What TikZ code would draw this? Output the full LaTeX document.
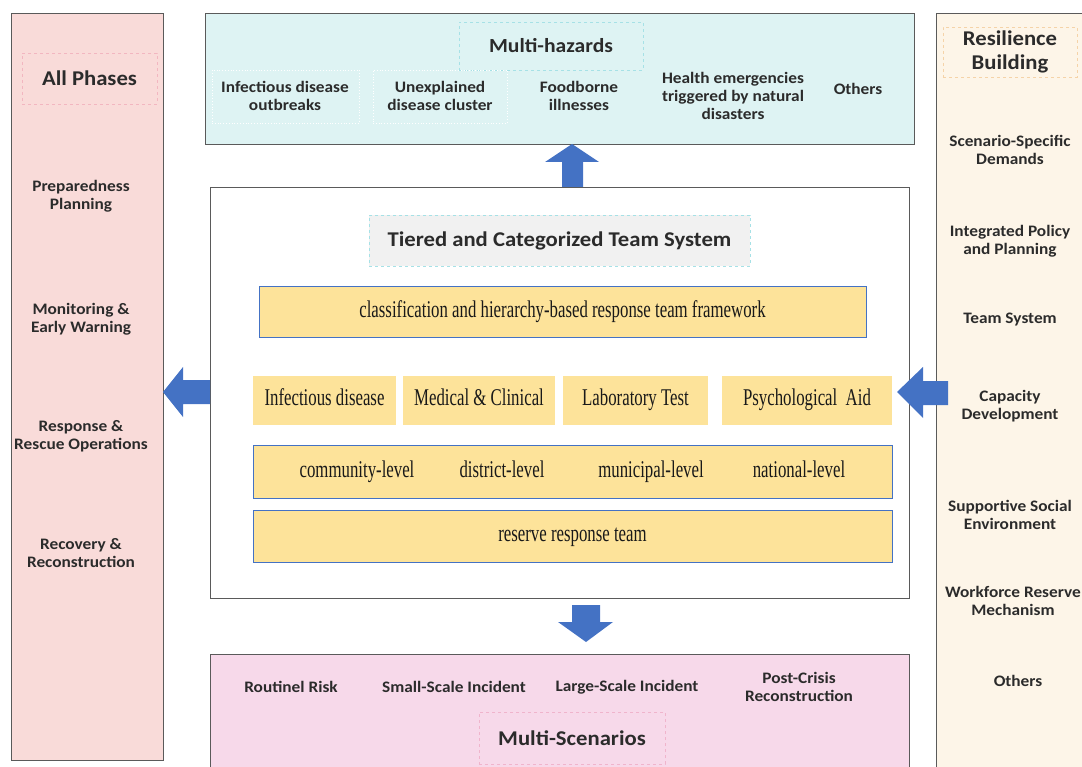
\documentclass[tikz,border=0pt]{standalone}
\usepackage{fontspec}
\setmainfont{Carlito}[FakeStretch=1.08]
\newfontfamily\condserif[FakeStretch=0.7]{Liberation Serif}
\usetikzlibrary{positioning}

\definecolor{edgegray}{HTML}{5A5A5A}
\definecolor{txtgray}{HTML}{2B2B2B}
\definecolor{phasepink}{HTML}{F9DBD9}
\definecolor{hazardcyan}{HTML}{DEF3F3}
\definecolor{scenpink}{HTML}{F7D9EA}
\definecolor{rescream}{HTML}{FDF5E8}
\definecolor{yel}{HTML}{FDE39A}
\definecolor{boxblue}{HTML}{4472C4}
\definecolor{arrowblue}{HTML}{4472C4}
\definecolor{titlegray}{HTML}{F1F1F1}
\definecolor{dashcyan}{HTML}{A6E1E6}
\definecolor{dashpink}{HTML}{F2B6C0}
\definecolor{dashpeach}{HTML}{F5D3A8}
\definecolor{dashmag}{HTML}{F0B4CC}

\tikzset{
  box/.style={anchor=north west, inner sep=0pt, outer sep=0pt},
  panel/.style={box, draw=edgegray, line width=0.9pt},
  lbl/.style={font=\bfseries\fontsize{16}{18}\selectfont, text=txtgray, align=center, inner sep=0pt},
  headline/.style={font=\bfseries\fontsize{21}{23.5}\selectfont, text=txtgray, align=center, inner sep=0pt},
  ytext/.style={font=\condserif\fontsize{24}{27}\selectfont, text=black!90, inner sep=0pt,
    text height=16pt, text depth=5.5pt},
  ybox/.style={box, fill=yel},
  ybluebox/.style={box, fill=yel, draw=boxblue, line width=1pt},
  blockarrow/.style={fill=arrowblue, draw=none},
}

\begin{document}
\begin{tikzpicture}[x=1pt, y=-1pt]
\useasboundingbox (0,0) rectangle (1082,767);

% ---------- left column: phases ----------
\node[panel, fill=phasepink, minimum width=152pt, minimum height=747pt] (phases) at (11,13) {};
\node[box, draw=dashpink, dashed, line width=0.8pt, minimum width=135pt, minimum height=51pt] (phasetitlebox) at (22,53) {};
\node[headline] (phasetitle) at (phasetitlebox.center) {All Phases};
\node[lbl] (ph1) at (81,196) {Preparedness\\Planning};
\node[lbl] (ph2) at (81,319) {Monitoring \&\\Early Warning};
\node[lbl] (ph3) at (81,436) {Response \&\\Rescue Operations};
\node[lbl] (ph4) at (81,553) {Recovery \&\\Reconstruction};

% ---------- right column: resilience ----------
\fill[rescream] (936,13) rectangle (1082,767);
\draw[edgegray, line width=0.9pt] (936,767) -- (936,13) -- (1082,13);
\node[box, draw=dashpeach, dashed, line width=0.8pt, minimum width=134pt, minimum height=50pt] (restitlebox) at (943,27) {};
\node[headline] (restitle) at (restitlebox.center) {Resilience\\Building};
\node[lbl] (rb1) at (1010,150) {Scenario-Specific\\Demands};
\node[lbl] (rb2) at (1010,241) {Integrated Policy\\and Planning};
\node[lbl] (rb3) at (1010,320) {Team System};
\node[lbl] (rb4) at (1010,406) {Capacity\\Development};
\node[lbl] (rb5) at (1010,515) {Supportive Social\\Environment};
\node[lbl] (rb6) at (1013,601) {Workforce Reserve\\Mechanism};
\node[lbl] (rb7) at (1018,681) {Others};

% ---------- top panel: hazards ----------
\node[panel, fill=hazardcyan, minimum width=709pt, minimum height=131pt] (hazards) at (205,13) {};
\node[box, draw=dashcyan, dashed, line width=0.8pt, minimum width=184pt, minimum height=48pt] (hazardtitlebox) at (459,22) {};
\node[headline, font=\bfseries\fontsize{20}{22}\selectfont] (hazardtitle) at (hazardtitlebox.center) {Multi-hazards};
\node[box, draw=white, dotted, line width=0.8pt, minimum width=147pt, minimum height=53pt] (hz1box) at (212,70) {};
\node[box, draw=white, dotted, line width=0.8pt, minimum width=134pt, minimum height=53pt] (hz2box) at (373,70) {};
\node[lbl] (hz1) at (285,96) {Infectious disease\\outbreaks};
\node[lbl] (hz2) at (440,96) {Unexplained\\disease cluster};
\node[lbl] (hz3) at (579,96) {Foodborne\\illnesses};
\node[lbl] (hz4) at (733,96) {Health emergencies\\triggered by natural\\disasters};
\node[lbl] (hz5) at (858,89) {Others};

% ---------- centre: team system ----------
\node[panel, fill=white, minimum width=699pt, minimum height=411pt] (team) at (210,187) {};
\node[box, fill=titlegray, draw=dashcyan, dashed, line width=0.8pt, minimum width=381pt, minimum height=51pt] (teamtitlebox) at (369,215) {};
\node[headline] (teamtitle) at (teamtitlebox.center) {Tiered and Categorized Team System};

\node[ybluebox, minimum width=607pt, minimum height=51pt] (framework) at (259,287) {};
\node[ytext] at (framework.center) {classification and hierarchy-based response team framework};

\node[ybox, minimum width=143pt, minimum height=49pt] (cat1) at (253,376) {};
\node[ytext] at (cat1.center) {Infectious disease};
\node[ybox, minimum width=152pt, minimum height=49pt] (cat2) at (403,376) {};
\node[ytext] at (cat2.center) {Medical \& Clinical};
\node[ybox, minimum width=145pt, minimum height=49pt] (cat3) at (563,376) {};
\node[ytext] at (cat3.center) {Laboratory Test};
\node[ybox, minimum width=170pt, minimum height=49pt] (cat4) at (722,376) {};
\node[ytext] at (cat4.center) {Psychological\ \ Aid};

\node[ybluebox, minimum width=639pt, minimum height=53pt] (levels) at (253,445) {};
\node[ytext] (lv1) at (357,472) {community-level};
\node[ytext] (lv2) at (502,472) {district-level};
\node[ytext] (lv3) at (651,472) {municipal-level};
\node[ytext] (lv4) at (799,472) {national-level};

\node[ybluebox, minimum width=639pt, minimum height=52pt] (reserve) at (253,510) {};
\node[ytext] at (reserve.center) {reserve response team};

% ---------- bottom panel: scenarios ----------
\fill[scenpink] (210,654) rectangle (909,767);
\draw[edgegray, line width=0.9pt] (210,767) -- (210,654) -- (909,654) -- (909,767);
\node[box, draw=dashmag, dashed, line width=0.8pt, minimum width=186pt, minimum height=52pt] (scentitlebox) at (479,712) {};
\node[headline] (scentitle) at (scentitlebox.center) {Multi-Scenarios};
\node[lbl] (sc1) at (291,687) {Routinel Risk};
\node[lbl] (sc2) at (454,687) {Small-Scale Incident};
\node[lbl] (sc3) at (627,687) {Large-Scale Incident};
\node[lbl] (sc4) at (799,687) {Post-Crisis\\Reconstruction};

% ---------- block arrows ----------
% team -> hazards (up)
\fill[blockarrow] (team.north -| 562,0) -- (562,162) -- (545,162) -- (572,144)
  -- (599,162) -- (583,162) -- (team.north -| 583,0) -- cycle;
% team -> phases (left)
\fill[blockarrow] (team.west |- 0,380) -- (183,380) -- (183,367) -- (phases.east |- 0,392)
  -- (183,417) -- (183,404) -- (team.west |- 0,404) -- cycle;
% resilience -> team (left)
\fill[blockarrow] (948,381) -- (923,381) -- (923,367) -- (897,392)
  -- (923,418) -- (923,405) -- (948,405) -- cycle;
% team -> scenarios (down)
\fill[blockarrow] (572,605) -- (600,605) -- (600,622) -- (613,622) -- (586,642)
  -- (558,622) -- (572,622) -- cycle;
\end{tikzpicture}
\end{document}
